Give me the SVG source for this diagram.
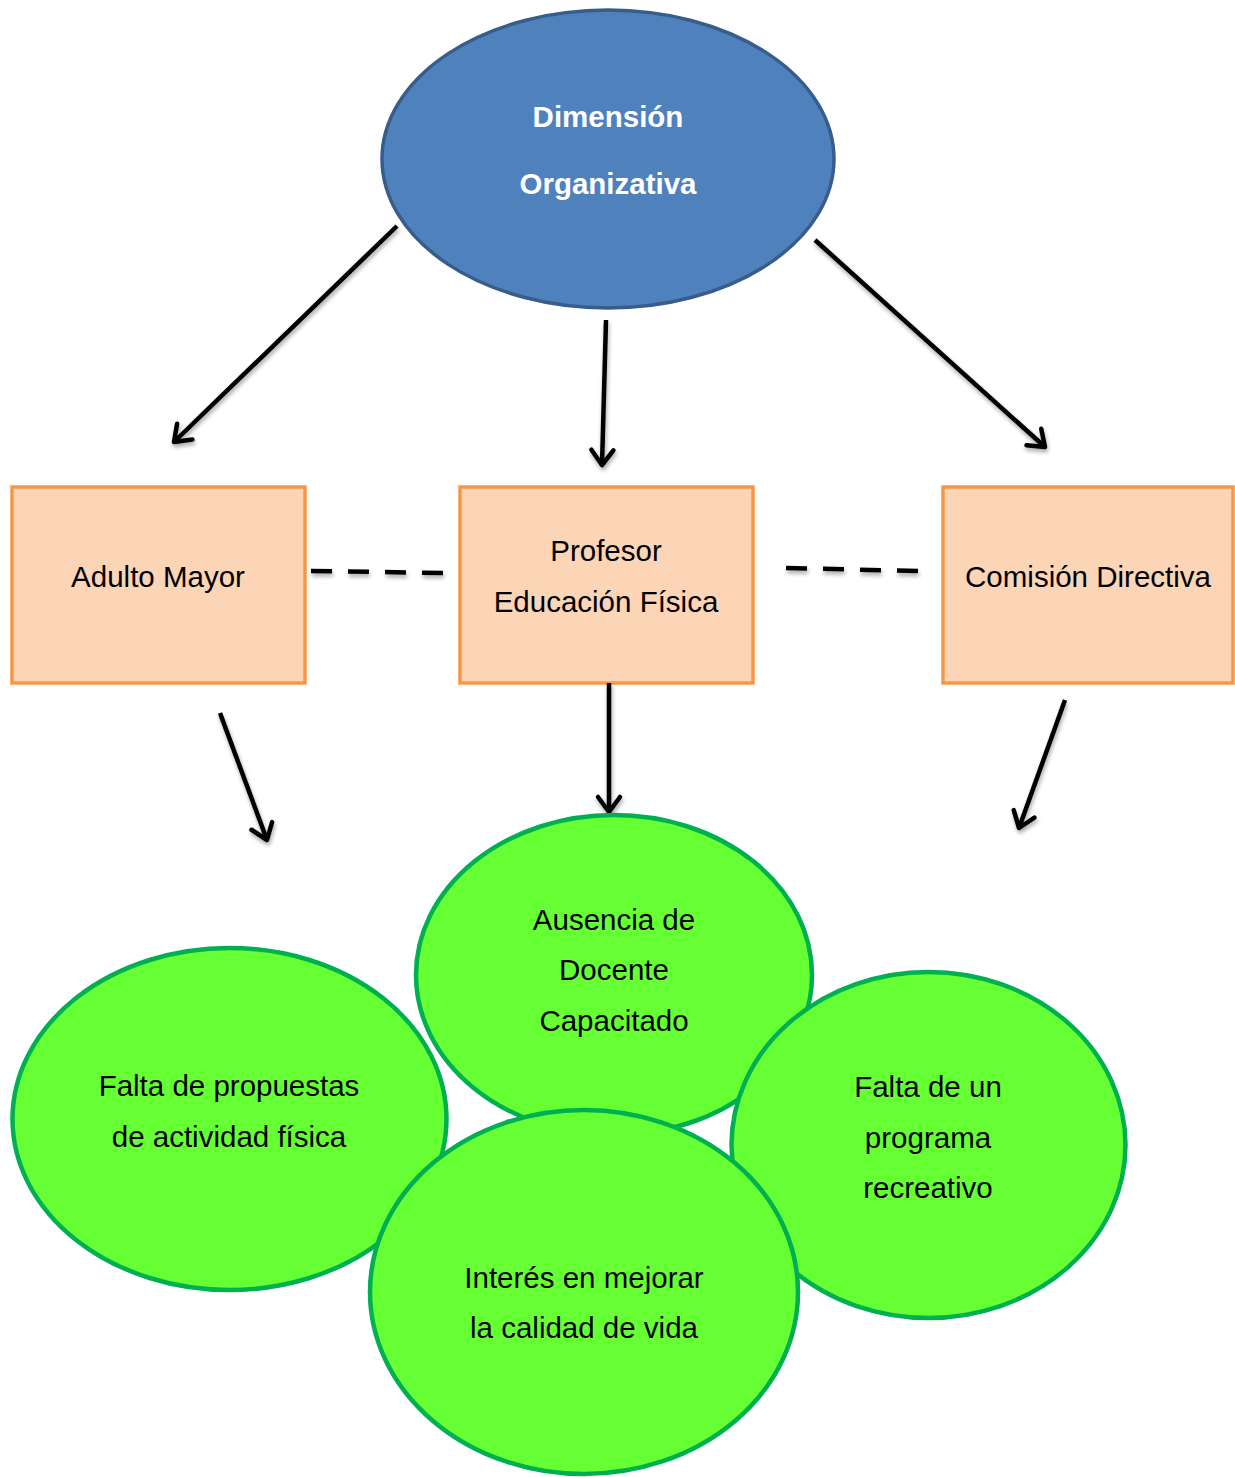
<svg xmlns="http://www.w3.org/2000/svg" width="1235" height="1477" viewBox="0 0 1235 1477">
  <defs>
    <filter id="shadow" x="-20%" y="-20%" width="140%" height="140%">
      <feGaussianBlur in="SourceAlpha" stdDeviation="2"/>
      <feOffset dx="1" dy="3" result="b"/>
      <feComponentTransfer><feFuncA type="linear" slope="0.35"/></feComponentTransfer>
      <feMerge><feMergeNode/><feMergeNode in="SourceGraphic"/></feMerge>
    </filter>
    <marker id="head" markerUnits="userSpaceOnUse" viewBox="-20 -15 30 30" markerWidth="30" markerHeight="30" refX="0" refY="0" orient="auto">
      <path d="M-15,-11 L0,0 L-15,11" fill="none" stroke="#000" stroke-width="4.5" stroke-linecap="round" stroke-linejoin="round"/>
    </marker>
    <style>
      .txt { font-family: "Liberation Sans", Arial, sans-serif; font-size: 29.5px; fill: #000; text-anchor: middle; }
      .head { font-family: "Liberation Sans", Arial, sans-serif; font-size: 29.5px; font-weight: bold; fill: #fff; text-anchor: middle; }
      .box { fill: #FBD5B5; stroke: #F79646; stroke-width: 3.5; }
      .bubble { fill: #66FF33; stroke: #00B050; stroke-width: 4.5; }
      .arrow { stroke: #000; stroke-width: 4.5; fill: none; marker-end: url(#head); }
      .dash { stroke: #000; stroke-width: 4.5; fill: none; stroke-dasharray: 21 16; }
    </style>
  </defs>
  <rect width="1235" height="1477" fill="#fff"/>

  <!-- top ellipse -->
  <g id="dimension">
    <ellipse cx="608" cy="159" rx="226" ry="149" fill="#4F81BD" stroke="#385D8A" stroke-width="3.5"/>
    <text class="head" x="608" y="127">Dimensión</text>
    <text class="head" x="608" y="194">Organizativa</text>
  </g>

  <!-- actors -->
  <g id="adulto-mayor">
    <rect class="box" x="12" y="487" width="293" height="196"/>
    <text class="txt" x="158" y="587">Adulto Mayor</text>
  </g>
  <g id="profesor">
    <rect class="box" x="460" y="487" width="293" height="196"/>
    <text class="txt" x="606" y="561">Profesor</text>
    <text class="txt" x="606" y="612">Educación Física</text>
  </g>
  <g id="comision">
    <rect class="box" x="943" y="487" width="290" height="196"/>
    <text class="txt" x="1088" y="587">Comisión Directiva</text>
  </g>

  <!-- connectors -->
  <g id="connectors" filter="url(#shadow)">
    <line class="arrow" x1="397" y1="226" x2="174" y2="442"/>
    <line class="arrow" x1="606" y1="320" x2="602" y2="465"/>
    <line class="arrow" x1="815" y1="240" x2="1045" y2="447"/>
    <line class="arrow" x1="220" y1="713" x2="267" y2="840"/>
    <line class="arrow" x1="609" y1="683" x2="609" y2="812"/>
    <line class="arrow" x1="1065" y1="700" x2="1019" y2="828"/>
    <line class="dash" x1="311" y1="571" x2="446" y2="573"/>
    <line class="dash" x1="786" y1="568" x2="920" y2="571"/>
  </g>

  <!-- problems -->
  <g id="falta-propuestas">
    <ellipse class="bubble" cx="229.5" cy="1119" rx="217" ry="171"/>
    <text class="txt" x="229" y="1096">Falta de propuestas</text>
    <text class="txt" x="229" y="1147">de actividad física</text>
  </g>
  <g id="ausencia-docente">
    <ellipse class="bubble" cx="614" cy="975" rx="198" ry="160"/>
    <text class="txt" x="614" y="930">Ausencia de</text>
    <text class="txt" x="614" y="980">Docente</text>
    <text class="txt" x="614" y="1031">Capacitado</text>
  </g>
  <g id="falta-programa">
    <ellipse class="bubble" cx="928.5" cy="1145" rx="197" ry="173"/>
    <text class="txt" x="928" y="1097">Falta de un</text>
    <text class="txt" x="928" y="1148">programa</text>
    <text class="txt" x="928" y="1198">recreativo</text>
  </g>
  <g id="interes">
    <ellipse class="bubble" cx="584" cy="1292" rx="214" ry="182"/>
    <text class="txt" x="584" y="1288">Interés en mejorar</text>
    <text class="txt" x="584" y="1338">la calidad de vida</text>
  </g>
</svg>
